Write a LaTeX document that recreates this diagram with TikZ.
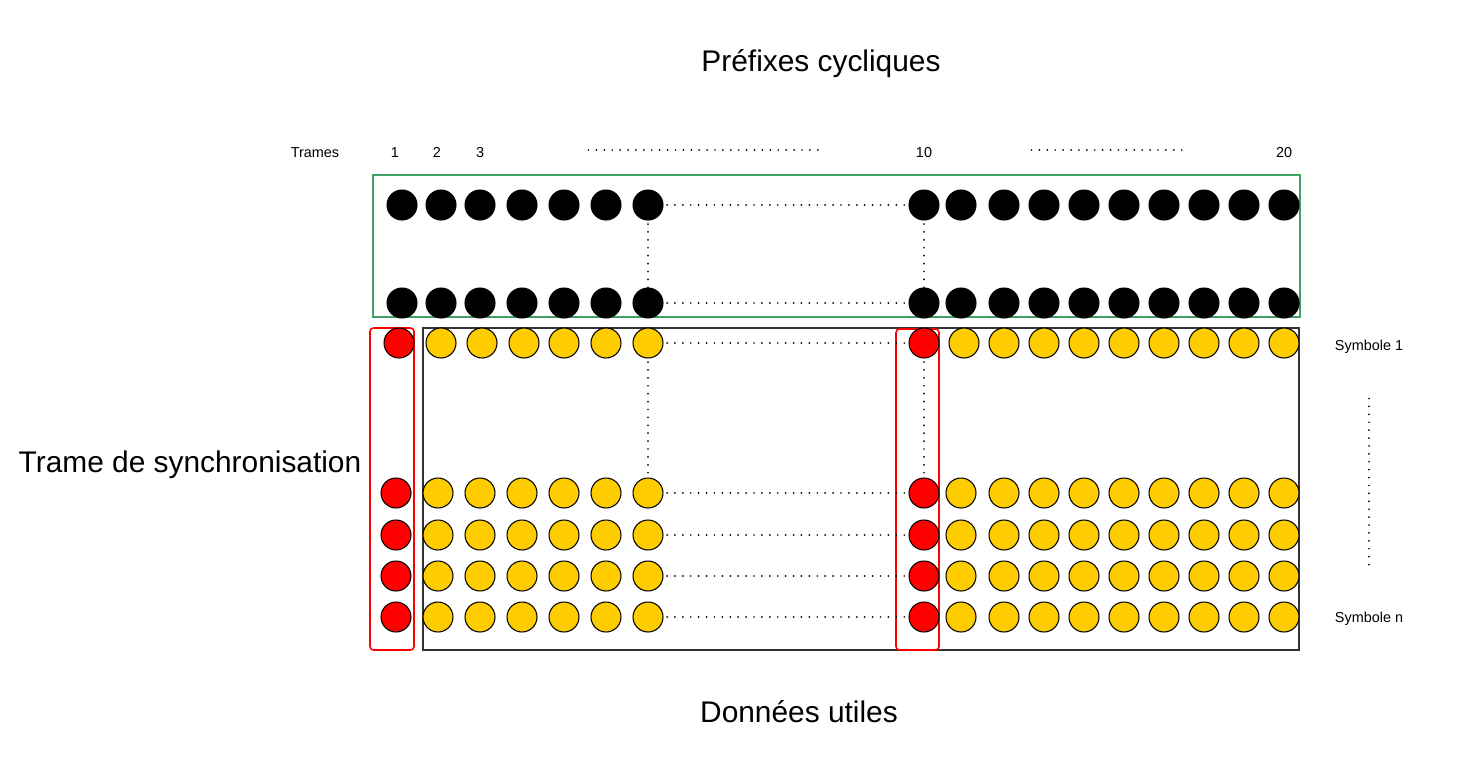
\documentclass[tikz,border=0pt]{standalone}
\usepackage{fontspec}
\setmainfont{Liberation Sans}
\definecolor{prefgreen}{RGB}{67,160,100}
\definecolor{datayellow}{RGB}{255,204,0}
\definecolor{syncred}{RGB}{255,0,0}
\begin{document}
\begin{tikzpicture}[x=0.02cm,y=-0.02cm,
  cell/.style={circle,draw=black,line width=.6pt,minimum size=.6cm,inner sep=0pt},
  pref/.style={cell,fill=black},
  data/.style={cell,fill=datayellow},
  sync/.style={cell,fill=syncred},
  dotline/.style={line width=1.1pt,line cap=round,dash pattern=on 0pt off 4.5pt,shorten <=2pt},
  small/.style={font=\fontsize{8.2}{10}\selectfont,inner sep=0pt,anchor=base},
  big/.style={font=\fontsize{17}{20}\selectfont,inner sep=0pt}]
\useasboundingbox (0,0) rectangle (1484,771);
% frames
\draw[prefgreen,line width=1.1pt] (373,175) rectangle (1300,317);
\draw[black!80,line width=1.1pt] (423,328) rectangle (1299,650);
\draw[syncred,line width=.9pt,rounded corners=2pt] (370,328) rectangle (414,650);
\draw[syncred,line width=.9pt,rounded corners=2pt] (896,329) rectangle (939,650);
% cyclic prefixes
\foreach \x [count=\i] in {402,441,480,522,564,606,648,924,961,1004,1044,1084,1124,1164,1204,1244,1284} {
  \node[pref] (p1-\i) at (\x,205) {};
  \node[pref] (p2-\i) at (\x,303) {};
}
% symbols
\node[sync] (d1-1) at (399,343) {};
\node[sync] (d1-8) at (924,343) {};
\foreach \x [count=\i from 2] in {441,482,524,564,606,648}
  \node[data] (d1-\i) at (\x,343) {};
\foreach \x [count=\i from 9] in {964,1004,1044,1084,1124,1164,1204,1244,1284}
  \node[data] (d1-\i) at (\x,343) {};
\foreach \y [count=\r from 2] in {493,535,576,617} {
  \node[sync] (d\r-1) at (396,\y) {};
  \node[sync] (d\r-8) at (924,\y) {};
  \foreach \x [count=\i from 2] in {438,480,522,564,606,648}
    \node[data] (d\r-\i) at (\x,\y) {};
  \foreach \x [count=\i from 9] in {961,1004,1044,1084,1124,1164,1204,1244,1284}
    \node[data] (d\r-\i) at (\x,\y) {};
}
% ellipses
\foreach \r in {1,2} \draw[dotline] (p\r-7) -- (p\r-8);
\foreach \r in {1,...,5} \draw[dotline] (d\r-7) -- (d\r-8);
\draw[dotline] (p1-7) -- (p2-7);
\draw[dotline] (p1-8) -- (p2-8);
\draw[dotline] (d1-7) -- (d2-7);
\draw[dotline] (d1-8) -- (d2-8);
% labels
\node[big] (titre) at (821,64) {Préfixes cycliques};
\node[big] (synclab) at (190,465) {Trame de synchronisation};
\node[big] (utiles) at (799,712) {Données utiles};
\node[small] (trames) at (315,157) {Trames};
\node[small] (t1) at (395,157) {1};
\node[small] (t2) at (437,157) {2};
\node[small] (t3) at (480,157) {3};
\node[small] (t10) at (924,157) {10};
\node[small] (t20) at (1284,157) {20};
\node[small] (sym1) at (1369,350) {Symbole 1};
\node[small] (symn) at (1369,622) {Symbole n};
\coordinate (h1a) at (585,150);
\coordinate (h1b) at (820,150);
\coordinate (h2a) at (1028,150);
\coordinate (h2b) at (1183,150);
\coordinate (va) at (1369,395);
\coordinate (vb) at (1369,565);
\draw[dotline] (h1a) -- (h1b);
\draw[dotline] (h2a) -- (h2b);
\draw[dotline] (va) -- (vb);
\end{tikzpicture}
\end{document}
